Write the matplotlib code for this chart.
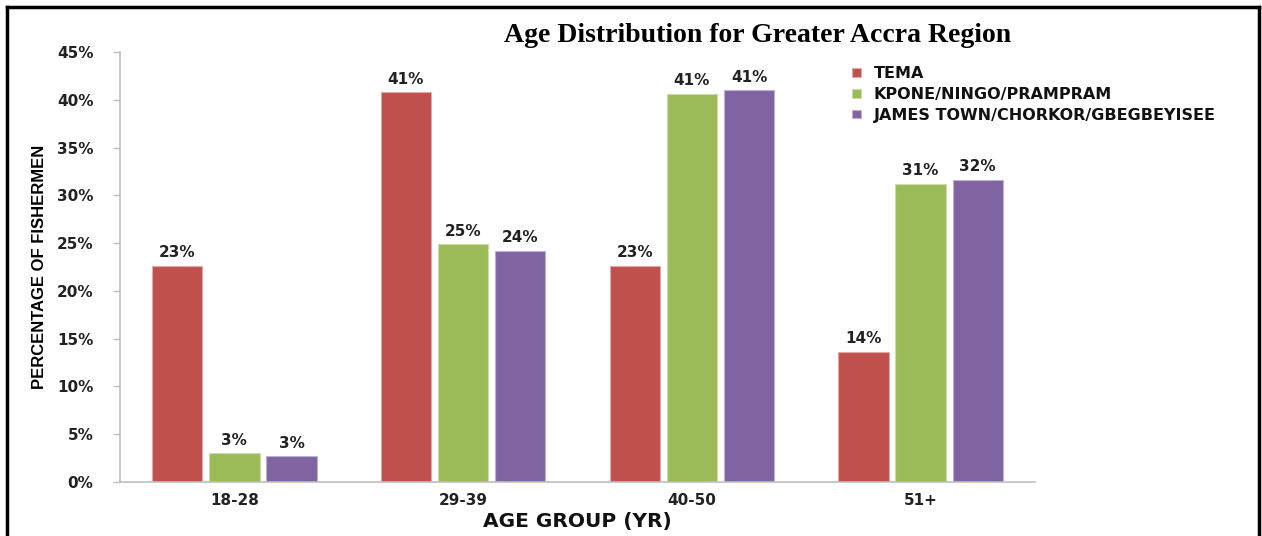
import matplotlib
matplotlib.use("Agg")
import matplotlib.pyplot as plt
from matplotlib.lines import Line2D
import numpy as np

categories = ["18-28", "29-39", "40-50", "51+"]
series_names = ["TEMA", "KPONE/NINGO/PRAMPRAM", "JAMES TOWN/CHORKOR/GBEGBEYISEE"]
tema = [22.6, 40.8, 22.6, 13.6]
kpone = [3.0, 24.9, 40.6, 31.2]
james = [2.7, 24.2, 41.0, 31.6]
colors = ["#C0504D", "#9BBB59", "#8064A2"]
edge_colors = ["#E3A9A7", "#CCDDAA", "#BFB0D3"]
yticks = [0, 5, 10, 15, 20, 25, 30, 35, 40, 45]

W, H = 1262, 536
fig = plt.figure(figsize=(W / 100, H / 100), dpi=100)
ax = fig.add_axes([120 / W, 1 - 482 / H, (1035 - 120) / W, (482 - 52) / H])

x = np.arange(len(categories))
bw = 0.22
step = 0.25
for i, (vals, c, ec, name) in enumerate(zip([tema, kpone, james], colors, edge_colors, series_names)):
    xs = x + (i - 1) * step
    ax.bar(xs, vals, width=bw, color=c, edgecolor=ec, linewidth=0.8, label=name)
    for xi, v in zip(xs, vals):
        ax.annotate(f"{round(v)}%", (xi, v), xytext=(0, 4), textcoords="offset points",
                    ha="center", va="bottom", fontsize=11, fontweight="bold", color="#222222")

ax.set_xlim(-0.5, 3.5)
ax.set_ylim(0, 45)
ax.set_yticks(yticks)
ax.set_yticklabels([f"{t}%" for t in yticks], fontsize=11, fontweight="bold", color="#222222")
ax.set_xticks(x)
ax.set_xticklabels(categories, fontsize=11, fontweight="bold", color="#222222")
ax.tick_params(axis="y", length=5, color="#BFBFBF", width=1, pad=14)
ax.tick_params(axis="x", length=0, pad=8)
for s in ["top", "right"]:
    ax.spines[s].set_visible(False)
for s in ["left", "bottom"]:
    ax.spines[s].set_color("#BFBFBF")
    ax.spines[s].set_linewidth(1.2)

ax.set_xlabel("AGE GROUP (YR)", fontsize=14.5, fontweight="bold", color="#111111", labelpad=3)
ax.yaxis.set_label_coords(-80 / (1035 - 120), (482 - 267) / (482 - 52))
ax.set_ylabel("PERCENTAGE OF FISHERMEN", fontsize=12, fontweight="bold",
              family=["Liberation Sans", "DejaVu Sans"], color="#000000", va="center")

fig.text(758 / W, 1 - 36 / H, "Age Distribution for Greater Accra Region", ha="center", va="center",
         fontsize=20, fontweight="bold", family=["Liberation Serif", "DejaVu Serif"])

leg = fig.legend(loc="upper left", bbox_to_anchor=(846 / W, 1 - 60 / H), frameon=False,
                 handlelength=0.55, handleheight=0.45, handletextpad=0.8, labelspacing=0.35,
                 prop={"size": 11.5, "weight": "bold"}, borderaxespad=0)
for t in leg.get_texts():
    t.set_color("#111111")

# outer frame (left, top, right)
lw = 2.5
fig.add_artist(Line2D([7 / W, 7 / W], [0, 1 - 7 / H], color="black", lw=lw, transform=fig.transFigure))
fig.add_artist(Line2D([7 / W, 1259 / W], [1 - 7 / H, 1 - 7 / H], color="black", lw=lw, transform=fig.transFigure))
fig.add_artist(Line2D([1259 / W, 1259 / W], [0, 1 - 7 / H], color="black", lw=lw, transform=fig.transFigure))

fig.savefig("out.png", dpi=100)
